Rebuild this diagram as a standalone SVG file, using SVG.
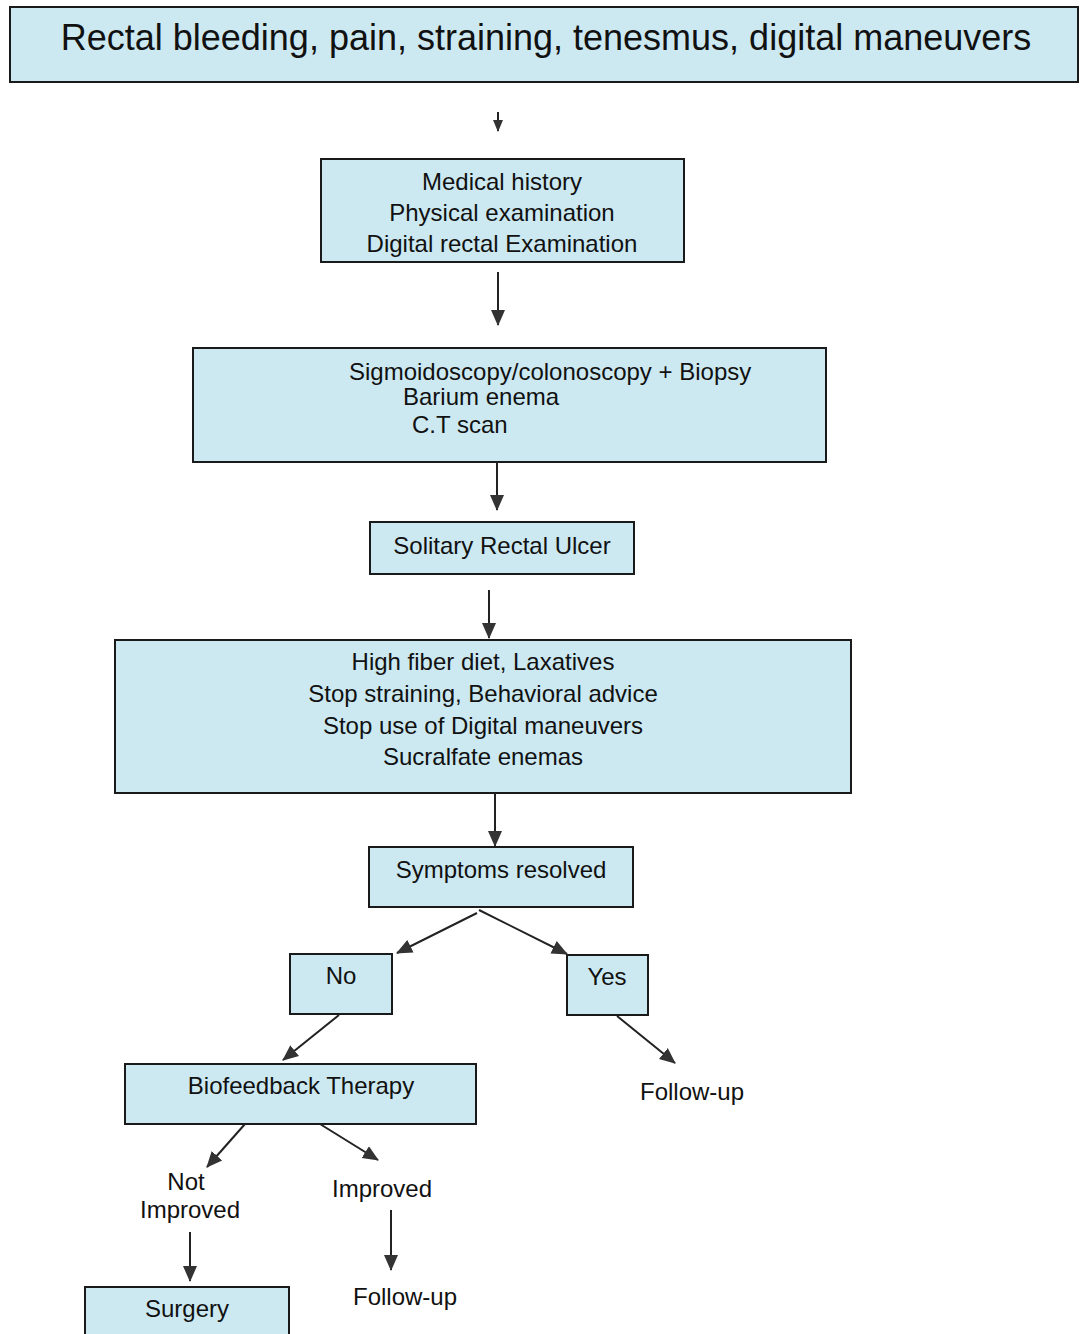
<svg xmlns="http://www.w3.org/2000/svg" width="1081" height="1334" viewBox="0 0 1081 1334">
<style>
.box{fill:#cce9f2;stroke:#1a1a1a;stroke-width:2}
.t{font-family:"Liberation Sans",Arial,sans-serif;font-size:24px;fill:#111;text-anchor:middle}
.ts{font-family:"Liberation Sans",Arial,sans-serif;font-size:24px;fill:#111;text-anchor:start}
.c{stroke:#222;stroke-width:2;fill:none}
</style>
<defs>
<marker id="ah" markerUnits="userSpaceOnUse" markerWidth="16" markerHeight="16" viewBox="0 0 16 16" refX="15" refY="8" orient="auto">
<path d="M0,1 L16,8 L0,15 Z" fill="#333"/>
</marker>
<marker id="ahs" markerUnits="userSpaceOnUse" markerWidth="12" markerHeight="12" viewBox="0 0 12 12" refX="11" refY="6" orient="auto">
<path d="M0,1 L12,6 L0,11 Z" fill="#333"/>
</marker>
</defs>
<rect width="1081" height="1334" fill="#fff"/>
<g id="n1"><rect class="box" x="10" y="7" width="1068" height="75"/><text class="t" x="546" y="50" style="font-size:36px">Rectal bleeding, pain, straining, tenesmus, digital maneuvers</text></g>
<g id="n2"><rect class="box" x="321" y="159" width="363" height="103"/><text class="t" x="502" y="190">Medical history</text><text class="t" x="502" y="221">Physical examination</text><text class="t" x="502" y="252">Digital rectal Examination</text></g>
<g id="n3"><rect class="box" x="193" y="348" width="633" height="114"/><text class="ts" x="349" y="380">Sigmoidoscopy/colonoscopy + Biopsy</text><text class="ts" x="403" y="405">Barium enema</text><text class="ts" x="412" y="433">C.T scan</text></g>
<g id="n4"><rect class="box" x="370" y="522" width="264" height="52"/><text class="t" x="502" y="554">Solitary Rectal Ulcer</text></g>
<g id="n5"><rect class="box" x="115" y="640" width="736" height="153"/><text class="t" x="483" y="670">High fiber diet, Laxatives</text><text class="t" x="483" y="702">Stop straining, Behavioral advice</text><text class="t" x="483" y="734">Stop use of Digital maneuvers</text><text class="t" x="483" y="765">Sucralfate enemas</text></g>
<g id="n6"><rect class="box" x="369" y="847" width="264" height="60"/><text class="t" x="501" y="878">Symptoms resolved</text></g>
<g id="n7"><rect class="box" x="290" y="954" width="102" height="60"/><text class="t" x="341" y="984">No</text></g>
<g id="n8"><rect class="box" x="567" y="955" width="81" height="60"/><text class="t" x="607" y="985">Yes</text></g>
<g id="n9"><text class="t" x="692" y="1100">Follow-up</text></g>
<g id="n10"><rect class="box" x="125" y="1064" width="351" height="60"/><text class="t" x="301" y="1094">Biofeedback Therapy</text></g>
<g id="n11"><text class="t" x="186" y="1190">Not</text><text class="t" x="190" y="1218">Improved</text></g>
<g id="n12"><text class="t" x="382" y="1197">Improved</text></g>
<g id="n13"><text class="t" x="405" y="1305">Follow-up</text></g>
<g id="n14"><rect class="box" x="85" y="1287" width="204" height="60"/><text class="t" x="187" y="1317">Surgery</text></g>
<g id="connectors">
<line class="c" x1="498" y1="112" x2="498" y2="131" marker-end="url(#ahs)"/>
<line class="c" x1="498" y1="272" x2="498" y2="325" marker-end="url(#ah)"/>
<line class="c" x1="497" y1="462" x2="497" y2="510" marker-end="url(#ah)"/>
<line class="c" x1="489" y1="590" x2="489" y2="638" marker-end="url(#ah)"/>
<line class="c" x1="495" y1="793" x2="495" y2="846" marker-end="url(#ah)"/>
<line class="c" x1="477" y1="913" x2="397" y2="953" marker-end="url(#ah)"/>
<line class="c" x1="479" y1="910" x2="567" y2="954" marker-end="url(#ah)"/>
<line class="c" x1="339" y1="1015" x2="283" y2="1060" marker-end="url(#ah)"/>
<line class="c" x1="617" y1="1016" x2="675" y2="1063" marker-end="url(#ah)"/>
<line class="c" x1="245" y1="1124" x2="207" y2="1167" marker-end="url(#ah)"/>
<line class="c" x1="320" y1="1124" x2="378" y2="1160" marker-end="url(#ah)"/>
<line class="c" x1="190" y1="1232" x2="190" y2="1281" marker-end="url(#ah)"/>
<line class="c" x1="391" y1="1210" x2="391" y2="1270" marker-end="url(#ah)"/>
</g>
</svg>
